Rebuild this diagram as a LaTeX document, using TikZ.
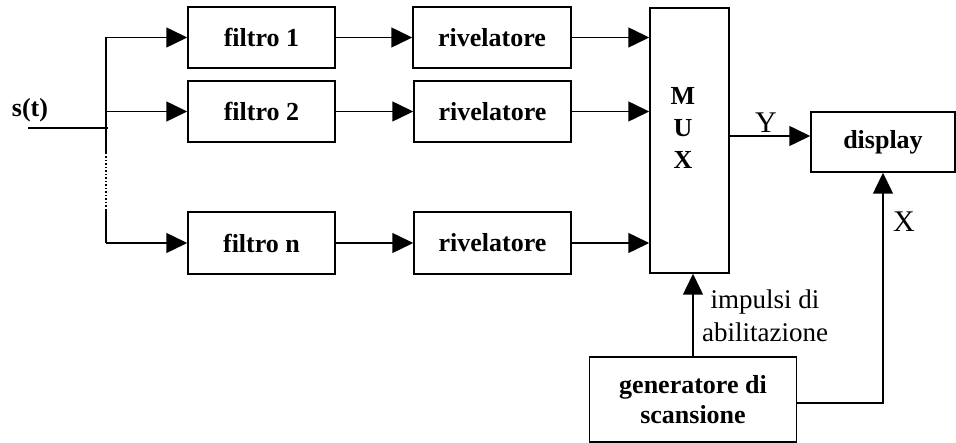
\documentclass[tikz,border=0pt]{standalone}
\usepackage{fontspec}
\setmainfont{Liberation Serif}
\usetikzlibrary{arrows.meta}
\usetikzlibrary{positioning}

\begin{document}
\begin{tikzpicture}[x=1pt,y=-1pt,
  blk/.style={rectangle,draw,inner sep=0pt,font=\fontsize{26}{30}\selectfont\bfseries,align=center},
  every path/.style={line width=1.5pt},
  arr/.style={-{Triangle[length=21pt,width=20pt]}},
]
\useasboundingbox (0,0) rectangle (956,443);
% blocks
\node[blk,minimum width=147pt,minimum height=61pt](f1) at(261.5,37.5){filtro 1};
\node[blk,minimum width=147pt,minimum height=61pt](f2) at(261.5,111.5){filtro 2};
\node[blk,minimum width=147pt,minimum height=62pt](fn) at(261.5,243){filtro n};
\node[blk,minimum width=158pt,minimum height=61pt](r1) at(492,37.5){rivelatore};
\node[blk,minimum width=157pt,minimum height=61pt](r2) at(492.5,111.5){rivelatore};
\node[blk,minimum width=157pt,minimum height=62pt](rn) at(492.5,243){rivelatore};
\node[blk,minimum width=79pt,minimum height=265pt](mux) at(689.5,140.5){};
\node[font=\fontsize{26}{32}\selectfont\bfseries,align=center](muxlab) at(683,128){M\\U\\X};
\node[blk,minimum width=144pt,minimum height=60pt](disp) at(883,142){display};
\node[blk,minimum width=207pt,minimum height=85pt](gen) at(693,399.5){generatore di\\scansione};
% input and bus
\coordinate(in) at(28,128); \coordinate(j) at(108,128);
\coordinate(b1) at(106,37.5); \coordinate(b2) at(106,111.5); \coordinate(bn) at(106,243);
\coordinate(dt) at(106,153); \coordinate(db) at(106,210);
\node[font=\fontsize{26}{30}\selectfont\bfseries](s) at(30,110){s(t)};
\draw(in)--(j); \draw(b1)--(dt); \draw[dotted](dt)--(db); \draw(db)--(bn);
\draw[arr](b1)--(f1); \draw[arr](b2)--(f2); \draw[arr](bn)--(fn);
\draw[arr](f1)--(r1); \draw[arr](f2)--(r2); \draw[arr](fn)--(rn);
\draw[arr](r1.east)--(r1.east -| mux.west); \draw[arr](r2.east)--(r2.east -| mux.west);
\draw[arr](rn.east)--(rn.east -| mux.west);
% outputs
\draw[arr]([yshift=6pt]mux.east |- disp.west)--([yshift=6pt]disp.west);
\node[font=\fontsize{30}{34}\selectfont](ylab) at(766,123){Y};
\draw[arr](gen.north)--(gen.north |- mux.south);
\node[font=\fontsize{27}{33}\selectfont,align=center](imp) at(765,316){impulsi di\\abilitazione};
\draw[arr]([yshift=-3.5pt]gen.east)-|(disp.south);
\node[font=\fontsize{30}{34}\selectfont](xlab) at(904,222){X};
\end{tikzpicture}
\end{document}
